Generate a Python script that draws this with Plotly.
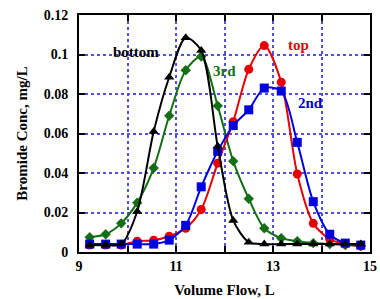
import plotly.graph_objects as go

x_vals = [9.22, 9.55, 9.87, 10.2, 10.54, 10.86, 11.2, 11.52, 11.86, 12.18,
          12.5, 12.82, 13.17, 13.5, 13.83, 14.17, 14.49, 14.81]

bottom = [0.0035, 0.0035, 0.004, 0.0205, 0.061, 0.0885, 0.1085, 0.102, 0.0535, 0.016,
          0.005, 0.004, 0.004, 0.004, 0.004, 0.004, 0.004, 0.004]
third = [0.0075, 0.009, 0.0145, 0.025, 0.0425, 0.069, 0.092, 0.099, 0.074, 0.046,
         0.027, 0.012, 0.007, 0.0055, 0.0045, 0.004, 0.0035, 0.003]
top = [0.0035, 0.0035, 0.0035, 0.0055, 0.006, 0.008, 0.012, 0.0215, 0.045, 0.066,
       0.0925, 0.1045, 0.086, 0.0395, 0.0145, 0.0065, 0.004, 0.003]
second = [0.004, 0.004, 0.004, 0.004, 0.004, 0.006, 0.0135, 0.033, 0.051, 0.064,
          0.072, 0.083, 0.0815, 0.0555, 0.0255, 0.009, 0.0045, 0.0035]

x_tickvals = [9, 10, 11, 12, 13, 14, 15]
x_ticktext = ["9", "", "11", "", "13", "", "15"]
y_tickvals = [0, 0.02, 0.04, 0.06, 0.08, 0.1, 0.12]
y_ticktext = ["0", "0.02", "0.04", "0.06", "0.08", "0.1", "0.12"]

FONT = "Liberation Serif, Times New Roman, serif"
RED = "rgb(230,0,0)"
GREEN = "rgb(20,110,20)"
BLUE = "rgb(0,0,225)"
BLACK = "black"

fig = go.Figure()
series = [
    ("3rd", third, GREEN, "diamond", 8),
    ("top", top, RED, "circle", 9),
    ("2nd", second, BLUE, "square", 9),
    ("bottom", bottom, BLACK, "triangle-up", 9),
]
for name, ys, col, sym, sz in series:
    fig.add_trace(go.Scatter(
        x=x_vals, y=ys, mode="lines+markers", name=name,
        line=dict(color=col, width=2, shape="spline", smoothing=0.8),
        marker=dict(color=col, symbol=sym, size=sz),
        showlegend=False,
    ))

labels = [("bottom", 10.18, 0.1012, BLACK), ("3rd", 12.0, 0.0915, GREEN),
          ("top", 13.52, 0.105, RED), ("2nd", 13.77, 0.0755, BLUE)]
for txt, lx, ly, col in labels:
    fig.add_annotation(x=lx, y=ly, text=txt, showarrow=False,
                       font=dict(family=FONT, size=15, color=col, weight="bold"),
                       xanchor="center", yanchor="middle")

axis_common = dict(
    showline=True, linecolor="black", linewidth=2, mirror="ticks",
    ticks="inside", ticklen=6, tickwidth=2, tickcolor="black",
    showgrid=True, gridcolor="rgb(80,80,230)", gridwidth=2, griddash="dot",
    zeroline=False, ticklabeloverflow="allow",
    tickfont=dict(family=FONT, size=14, color="black", weight="bold"),
)

fig.update_xaxes(range=[9, 15], tickvals=x_tickvals, ticktext=x_ticktext,
                 title=dict(text="Volume Flow, L", standoff=12,
                            font=dict(family=FONT, size=15, color="black", weight="bold")),
                 **axis_common)
fig.update_yaxes(range=[0, 0.12], tickvals=y_tickvals, ticktext=y_ticktext,
                 ticklabelstandoff=6,
                 title=dict(text="Bromide Conc, mg/L", standoff=12,
                            font=dict(family=FONT, size=15, color="black", weight="bold")),
                 **axis_common)

fig.update_layout(
    width=380, height=299,
    margin=dict(l=79, r=3, t=15, b=44),
    plot_bgcolor="white", paper_bgcolor="white",
)

fig.write_html("out.html", config={"displayModeBar": False},
               post_script="document.body.style.margin='0';document.body.style.padding='0';document.body.style.overflow='hidden';")
